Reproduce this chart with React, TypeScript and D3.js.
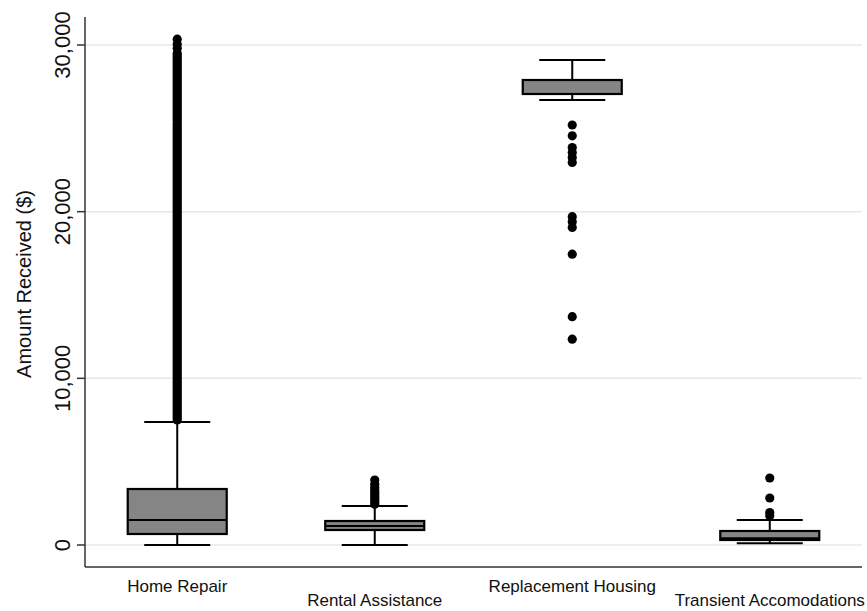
import React from "react";
import * as d3 from "d3";

const categories = ["Home Repair", "Rental Assistance", "Replacement Housing", "Transient Accomodations"];
const lowerWhisker = [0, 0, 26700, 100];
const q1 = [660, 900, 27060, 300];
const median = [1500, 1140, 27900, 400];
const q3 = [3360, 1440, 27900, 840];
const upperWhisker = [7380, 2340, 29100, 1500];
// densely packed outliers drawn as continuous runs [from, to]
const outlierRuns: [number, number][][] = [
  [[7500, 25300], [25450, 29500]],
  [[2450, 3300]],
  [],
  [],
];
const outliers: number[][] = [
  [29800, 30050, 30350],
  [3450, 3650, 3900],
  [25200, 24550, 23850, 23550, 23250, 22950, 19700, 19400, 19050, 17450, 13700, 12350],
  [4020, 2820, 1950, 1750],
];
const yTicks = [0, 10000, 20000, 30000];
const yTitle = "Amount Received ($)";

const W = 867;
const H = 611;
const axisX = 85;
const axisRight = 862;
const axisTop = 17;
const axisBottom = 567;

export default function App() {
  const y = d3.scaleLinear().domain([0, 30000]).range([545, 45]);
  const x = d3.scalePoint<string>().domain(categories).range([axisX, axisRight]).padding(0.467);
  const fmt = d3.format(",");
  const boxW = 99;
  const capW = 66;
  const r = 4.6;
  return (
    <svg width={W} height={H} style={{ position: "absolute", left: 0, top: 0, background: "#fff" }}
      fontFamily="'Liberation Sans', Arial, sans-serif">
      <rect width={W} height={H} fill="#fff" />
      {yTicks.map((t) => (
        <g key={t}>
          <line x1={axisX} x2={axisRight} y1={y(t)} y2={y(t)} stroke="#e8e8e8" strokeWidth={1.5} />
          <line x1={axisX - 8} x2={axisX} y1={y(t)} y2={y(t)} stroke="#333" strokeWidth={1.5} />
          <text transform={`translate(${axisX - 15},${y(t)}) rotate(-90)`} textAnchor="middle" fontSize={22} fill="#111">
            {fmt(t)}
          </text>
        </g>
      ))}
      <line x1={axisX} x2={axisX} y1={axisTop} y2={axisBottom} stroke="#333" strokeWidth={1.5} />
      <line x1={axisX} x2={axisRight} y1={axisBottom} y2={axisBottom} stroke="#333" strokeWidth={1.5} />
      <text transform={`translate(31,${(axisTop + axisBottom) / 2 - 8}) rotate(-90)`} textAnchor="middle" fontSize={20} fill="#111">
        {yTitle}
      </text>
      {categories.map((c, i) => {
        const cx = x(c)!;
        return (
          <g key={c}>
            <line x1={cx} x2={cx} y1={y(q3[i])} y2={y(upperWhisker[i])} stroke="#000" strokeWidth={2} />
            <line x1={cx} x2={cx} y1={y(q1[i])} y2={y(lowerWhisker[i])} stroke="#000" strokeWidth={2} />
            <line x1={cx - capW / 2} x2={cx + capW / 2} y1={y(upperWhisker[i])} y2={y(upperWhisker[i])} stroke="#000" strokeWidth={2} />
            <line x1={cx - capW / 2} x2={cx + capW / 2} y1={y(lowerWhisker[i])} y2={y(lowerWhisker[i])} stroke="#000" strokeWidth={2} />
            <rect x={cx - boxW / 2} width={boxW} y={y(q3[i])} height={Math.max(1, y(q1[i]) - y(q3[i]))}
              fill="#858585" stroke="#000" strokeWidth={2.2} />
            <line x1={cx - boxW / 2} x2={cx + boxW / 2} y1={y(median[i])} y2={y(median[i])} stroke="#000" strokeWidth={2.2} />
            {outlierRuns[i].map(([a, b], k) => (
              <line key={k} x1={cx} x2={cx} y1={y(a)} y2={y(b)} stroke="#000" strokeWidth={r * 2} strokeLinecap="round" />
            ))}
            {outliers[i].map((v, k) => (
              <circle key={k} cx={cx} cy={y(v)} r={r} fill="#000" />
            ))}
            <text x={cx} y={i % 2 === 0 ? 592 : 606} textAnchor="middle" fontSize={17} fill="#111">
              {c}
            </text>
          </g>
        );
      })}
    </svg>
  );
}
